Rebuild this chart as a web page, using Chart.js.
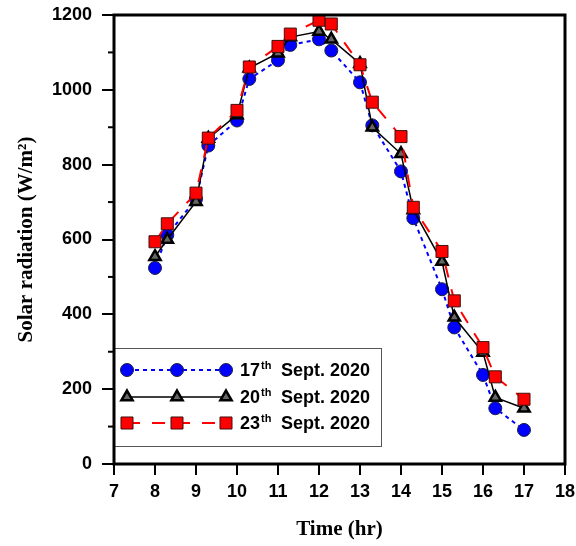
<!DOCTYPE html>
<html lang="en">
<head>
  <meta charset="UTF-8">
  <title>Solar radiation</title>
  <script src="https://cdn.jsdelivr.net/npm/chart.js"></script>
  <style>
    body { margin: 0; background: #fff; }
    #wrap { width: 576px; height: 546px; }
  </style>
</head>
<body>
  <div id="wrap">
    <canvas id="grafica" width="576" height="546"></canvas>
  </div>

  <script>
    // hora del día (8:00, 8:20, ... 17:00)
    const horas = [8, 8.3, 9, 9.3, 10, 10.3, 11, 11.3, 12, 12.3, 13, 13.3, 14, 14.3, 15, 15.3, 16, 16.3, 17];

    const dia17 = [524, 612, 708, 851, 918, 1029, 1079, 1120, 1135, 1105, 1020, 905, 782, 657, 467, 365, 238, 149, 91];
    const dia20 = [554, 600, 701, 870, 933, 1058, 1098, 1141, 1156, 1135, 1070, 900, 829, 679, 541, 392, 298, 178, 149];
    const dia23 = [594, 642, 724, 871, 945, 1061, 1116, 1149, 1186, 1176, 1067, 967, 875, 686, 568, 436, 311, 233, 173];

    const etiquetas = [['17', 'th', 'Sept. 2020'], ['20', 'th', 'Sept. 2020'], ['23', 'th', 'Sept. 2020']];

    function puntos(vals) {
      return vals.map((v, i) => ({ x: horas[i], y: v }));
    }

    // marco grueso y ticks menores del eje y
    const marco = {
      id: 'marco',
      afterDraw(chart) {
        const { ctx, chartArea: a, scales } = chart;
        ctx.save();
        ctx.strokeStyle = '#000';
        ctx.lineWidth = 2;
        scales.y.ticks.forEach(t => {
          if (t.value % 200 !== 0) {
            const py = scales.y.getPixelForValue(t.value);
            ctx.beginPath();
            ctx.moveTo(a.left - 6, py);
            ctx.lineTo(a.left, py);
            ctx.stroke();
          }
        });
        ctx.lineWidth = 3;
        ctx.strokeRect(a.left, a.top, a.right - a.left, a.bottom - a.top);
        ctx.restore();
      }
    };

    // leyenda dibujada a mano (por el superíndice "th")
    const leyenda = {
      id: 'leyenda',
      afterDatasetsDraw(chart) {
        const ctx = chart.ctx;
        const bx = 114, by = 348, bw = 267, bh = 98;
        ctx.save();
        ctx.fillStyle = '#fff';
        ctx.fillRect(bx, by, bw, bh);
        ctx.strokeStyle = '#555';
        ctx.lineWidth = 1;
        ctx.strokeRect(bx + 0.5, by + 0.5, bw, bh);

        const filas = [370, 397, 423];
        chart.data.datasets.forEach((ds, i) => {
          const y = filas[i];
          ctx.save();
          ctx.strokeStyle = ds.borderColor;
          ctx.lineWidth = ds.borderWidth;
          ctx.setLineDash(ds.borderDash || []);
          ctx.beginPath();
          ctx.moveTo(127, y);
          ctx.lineTo(226, y);
          ctx.stroke();
          ctx.restore();

          [127, 177, 226].forEach(px => {
            ctx.fillStyle = ds.pointBackgroundColor;
            ctx.strokeStyle = ds.pointBorderColor;
            ctx.lineWidth = ds.pointBorderWidth;
            ctx.setLineDash([]);
            Chart.helpers.drawPoint(ctx, {
              pointStyle: ds.pointStyle, radius: ds.pointRadius,
              rotation: 0, borderWidth: ds.pointBorderWidth
            }, px, y);
          });

          const [num, sup, resto] = etiquetas[i];
          ctx.fillStyle = '#000';
          ctx.textBaseline = 'middle';
          ctx.textAlign = 'left';
          ctx.font = 'bold 18px "Liberation Sans", Arial';
          ctx.fillText(num, 240, y + 1);
          const w = ctx.measureText(num).width;
          ctx.font = 'bold 11px "Liberation Sans", Arial';
          ctx.fillText(sup, 240 + w + 1, y - 4);
          ctx.font = 'bold 18px "Liberation Sans", Arial';
          ctx.fillText(resto, 281, y + 1);
        });
        ctx.restore();
      }
    };

    const fuenteTicks = { family: '"Liberation Sans", Arial', size: 18, weight: 'bold' };
    const fuenteTitulo = { family: '"Liberation Serif", "Times New Roman"', size: 21, weight: 'bold' };

    const ctx = document.getElementById('grafica').getContext('2d');
    new Chart(ctx, {
      type: 'line',
      data: {
        datasets: [
          {
            label: '17th Sept. 2020',
            data: puntos(dia17),
            borderColor: '#0000ff',
            borderWidth: 2,
            borderDash: [4, 4],
            pointStyle: 'circle',
            pointRadius: 6.5,
            pointBackgroundColor: '#0000ff',
            pointBorderColor: '#202040',
            pointBorderWidth: 1,
            order: 3
          },
          {
            label: '20th Sept. 2020',
            data: puntos(dia20),
            borderColor: '#000',
            borderWidth: 1.5,
            pointStyle: 'triangle',
            pointRadius: 6.5,
            pointBackgroundColor: '#666',
            pointBorderColor: '#000',
            pointBorderWidth: 2.5,
            order: 2
          },
          {
            label: '23th Sept. 2020',
            data: puntos(dia23),
            borderColor: '#ff0000',
            borderWidth: 2,
            borderDash: [13, 12],
            pointStyle: 'rect',
            pointRadius: 8.5,
            pointBackgroundColor: '#ff0000',
            pointBorderColor: '#401010',
            pointBorderWidth: 1,
            order: 1
          }
        ]
      },
      options: {
        responsive: false,
        animation: false,
        layout: { padding: { top: 15, right: 11, left: 0, bottom: 0 } },
        plugins: { legend: { display: false }, tooltip: { enabled: false } },
        elements: { line: { tension: 0 } },
        scales: {
          x: {
            type: 'linear',
            min: 7, max: 18,
            afterFit(s) { s.height = 82; s.paddingLeft = 0; s.paddingRight = 0; },
            border: { display: false },
            grid: { drawOnChartArea: false, tickLength: 11, color: '#000', lineWidth: 2 },
            ticks: { stepSize: 1, color: '#000', font: fuenteTicks, padding: 6, maxRotation: 0 },
            title: { display: true, text: 'Time (hr)', color: '#000', font: fuenteTitulo, padding: { top: 0, bottom: 4 } }
          },
          y: {
            min: 0, max: 1200,
            afterFit(s) { s.width = 114; s.paddingTop = 0; s.paddingBottom = 0; },
            border: { display: false },
            grid: {
              drawOnChartArea: false, tickLength: 12, lineWidth: 2,
              color: c => (c.tick && c.tick.value % 200 === 0) ? '#000' : 'rgba(0,0,0,0)'
            },
            ticks: {
              stepSize: 100, color: '#000', font: fuenteTicks, padding: 10,
              callback: v => (v % 200 === 0 ? v : '')
            },
            title: { display: true, text: 'Solar radiation (W/m²)', color: '#000', font: fuenteTitulo, padding: { top: 14, bottom: 0 } }
          }
        }
      },
      plugins: [leyenda, marco]
    });
  </script>
</body>
</html>
